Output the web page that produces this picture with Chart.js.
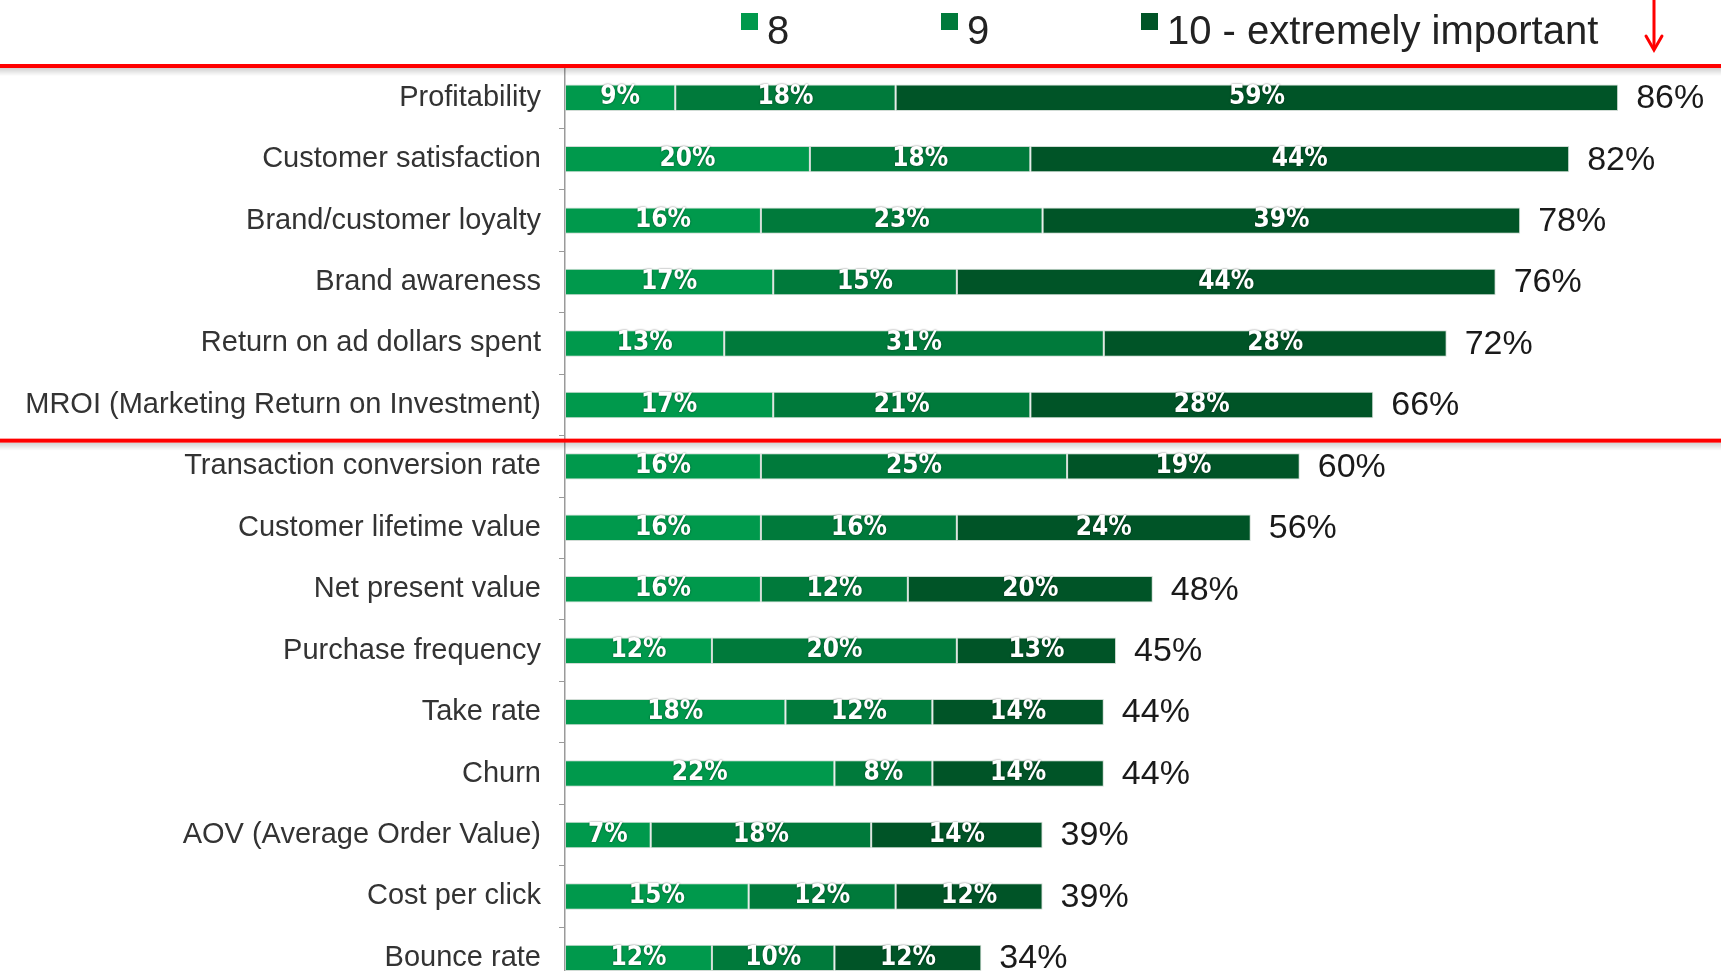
<!DOCTYPE html>
<html>
<head>
<meta charset="utf-8">
<script src="https://cdn.jsdelivr.net/npm/chart.js@4.4.1/dist/chart.umd.min.js"></script>
<style>
  html, body { margin: 0; padding: 0; background: #ffffff; overflow: hidden; width: 1721px; height: 971px; }
  #wrap { width: 1721px; height: 971px; position: relative; overflow: hidden; }
  #c { position: absolute; left: 0; top: 0; }
</style>
</head>
<body>
<div id="wrap"><canvas id="c" width="1721" height="1024"></canvas></div>
<script>
const categories = [
  'Profitability',
  'Customer satisfaction',
  'Brand/customer loyalty',
  'Brand awareness',
  'Return on ad dollars spent',
  'MROI (Marketing Return on Investment)',
  'Transaction conversion rate',
  'Customer lifetime value',
  'Net present value',
  'Purchase frequency',
  'Take rate',
  'Churn',
  'AOV (Average Order Value)',
  'Cost per click',
  'Bounce rate'
];
const seriesNames = ['8', '9', '10 - extremely important'];
const pct8  = [9, 20, 16, 17, 13, 17, 16, 16, 16, 12, 18, 22, 7, 15, 12];
const pct9  = [18, 18, 23, 15, 31, 21, 25, 16, 12, 20, 12, 8, 18, 12, 10];
const pct10 = [59, 44, 39, 44, 28, 28, 19, 24, 20, 13, 14, 14, 14, 12, 12];
const totals = [86, 82, 78, 76, 72, 66, 60, 56, 48, 45, 44, 44, 39, 39, 34];

const colors = ['#00994C', '#007A3B', '#005427'];
const COND = "'DejaVu Sans Condensed', 'Liberation Sans', sans-serif";
const REG = "'Liberation Sans', Arial, sans-serif";

const decorPlugin = {
  id: 'decor',
  afterDatasetsDraw(chart) {
    const ctx = chart.ctx;
    chart.data.datasets.forEach((ds, i) => {
      const meta = chart.getDatasetMeta(i);
      meta.data.forEach((bar, j) => {
        const v = ds.data[j];
        const cx = (bar.x + bar.base) / 2;
        ctx.save();
        ctx.font = "bold 26px " + COND;
        ctx.fillStyle = '#ffffff';
        ctx.textAlign = 'center';
        ctx.textBaseline = 'middle';
        ctx.shadowColor = 'rgba(0,0,0,0.55)';
        ctx.shadowBlur = 2;
        ctx.fillText(v + '%', cx, bar.y);
        ctx.restore();
      });
    });
    const last = chart.getDatasetMeta(chart.data.datasets.length - 1);
    last.data.forEach((bar, j) => {
      ctx.save();
      ctx.font = "34px " + REG;
      ctx.fillStyle = '#1a1a1a';
      ctx.textAlign = 'left';
      ctx.textBaseline = 'middle';
      ctx.fillText(totals[j] + '%', bar.x + 18, bar.y + 1);
      ctx.restore();
    });
  },
  afterDraw(chart) {
    const ctx = chart.ctx;
    const W = chart.width;
    const ys = chart.scales.y;
    const legX = [741, 941, 1141];
    chart.data.datasets.forEach((ds, i) => {
      ctx.save();
      ctx.fillStyle = ds.backgroundColor;
      ctx.fillRect(legX[i], 13, 17, 17);
      ctx.font = "40px " + REG;
      ctx.fillStyle = '#222222';
      ctx.textAlign = 'left';
      ctx.textBaseline = 'alphabetic';
      ctx.fillText(ds.label, legX[i] + 26, 44);
      ctx.restore();
    });
    const lineYs = [chart.chartArea.top - 1, (ys.getPixelForValue(5) + ys.getPixelForValue(6)) / 2 + 5];
    lineYs.forEach(y => {
      ctx.save();
      const g = ctx.createLinearGradient(0, y + 2, 0, y + 10);
      g.addColorStop(0, 'rgba(0,0,0,0.18)');
      g.addColorStop(1, 'rgba(0,0,0,0)');
      ctx.fillStyle = g;
      ctx.fillRect(0, y + 2, W, 8);
      ctx.fillStyle = '#FF0000';
      ctx.fillRect(0, y - 2, W, 4);
      ctx.restore();
    });
    ctx.save();
    ctx.strokeStyle = '#FF0000';
    ctx.lineWidth = 3;
    ctx.lineCap = 'round';
    ctx.beginPath();
    ctx.moveTo(1654, 0);
    ctx.lineTo(1654, 48);
    ctx.stroke();
    ctx.beginPath();
    ctx.moveTo(1646, 36);
    ctx.lineTo(1654, 50);
    ctx.lineTo(1662, 36);
    ctx.stroke();
    ctx.restore();
  }
};

const chart = new Chart(document.getElementById('c'), {
  type: 'bar',
  data: {
    labels: categories,
    datasets: [
      { label: seriesNames[0], data: pct8,  backgroundColor: colors[0] },
      { label: seriesNames[1], data: pct9,  backgroundColor: colors[1] },
      { label: seriesNames[2], data: pct10, backgroundColor: colors[2] }
    ].map(d => Object.assign(d, {
      borderColor: 'rgba(190,205,195,0.7)',
      borderWidth: 1,
      borderSkipped: false,
      barPercentage: 0.43,
      categoryPercentage: 1.0
    }))
  },
  options: {
    indexAxis: 'y',
    responsive: false,
    animation: false,
    layout: { padding: { top: 67, bottom: 0, left: 0, right: 0 } },
    plugins: {
      legend: { display: false },
      tooltip: { enabled: false }
    },
    scales: {
      x: { stacked: true, display: false, min: 0, max: 94.4 },
      y: {
        stacked: true,
        grid: { drawOnChartArea: false, drawTicks: true, tickLength: 6, color: '#9a9a9a', offset: true },
        border: { display: true, color: '#9a9a9a', width: 1.5 },
        ticks: {
          color: '#333333',
          padding: 18,
          font: { size: 29, family: REG }
        },
        afterFit(scale) { scale.width = 565; }
      }
    }
  },
  plugins: [decorPlugin]
});
</script>
</body>
</html>
